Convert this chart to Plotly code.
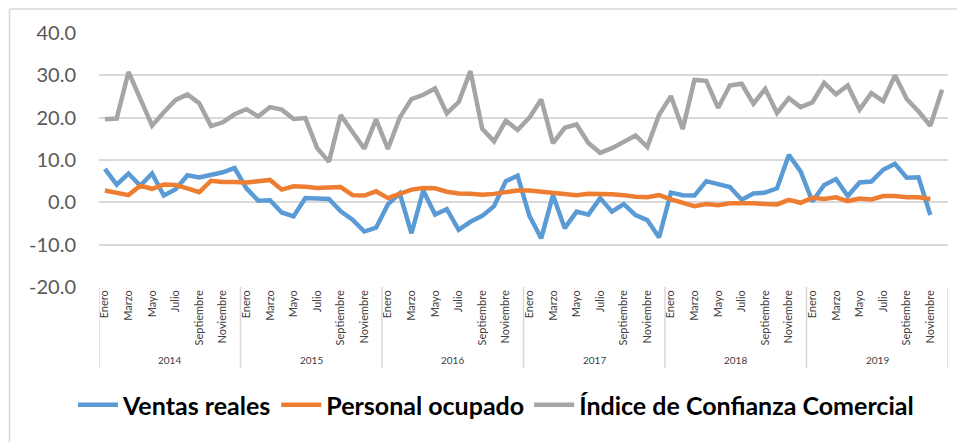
import plotly.graph_objects as go

years = ["2014", "2015", "2016", "2017", "2018", "2019"]
months = ["Enero", "Febrero", "Marzo", "Abril", "Mayo", "Junio", "Julio",
          "Agosto", "Septiembre", "Octubre", "Noviembre", "Diciembre"]

ventas_reales = [
    7.9, 4.2, 6.8, 3.9, 6.8, 1.6, 3.1, 6.4, 5.9, 6.5, 7.1, 8.1,
    3.3, 0.4, 0.5, -2.4, -3.3, 1.0, 0.9, 0.8, -2.1, -4.1, -6.9, -6.0,
    -0.5, 2.1, -7.3, 2.8, -2.9, -1.6, -6.5, -4.6, -3.2, -0.9, 5.0, 6.3,
    -3.2, -8.5, 1.7, -6.1, -2.2, -2.9, 1.0, -2.2, -0.4, -3.0, -4.2, -8.3,
    2.3, 1.7, 1.6, 5.0, 4.3, 3.6, 0.6, 2.1, 2.3, 3.3, 11.2, 7.3,
    0.2, 4.1, 5.5, 1.5, 4.7, 4.9, 7.7, 9.1, 5.8, 5.9, -3.0,
]
personal_ocupado = [
    2.8, 2.3, 1.7, 3.9, 3.2, 4.2, 4.1, 3.3, 2.4, 5.1, 4.8, 4.8,
    4.7, 5.0, 5.3, 3.0, 3.8, 3.7, 3.4, 3.5, 3.6, 1.7, 1.6, 2.6,
    1.0, 2.0, 3.0, 3.4, 3.3, 2.5, 2.1, 2.0, 1.8, 2.0, 2.4, 2.8,
    2.8, 2.5, 2.3, 1.9, 1.7, 2.0, 2.0, 1.9, 1.7, 1.3, 1.2, 1.7,
    0.7, -0.2, -0.9, -0.4, -0.7, -0.2, -0.1, -0.2, -0.4, -0.5, 0.6, -0.1,
    1.1, 0.8, 1.2, 0.3, 0.9, 0.7, 1.5, 1.5, 1.2, 1.2, 0.8,
]
confianza_comercial = [
    19.6, 19.8, 30.8, 24.6, 18.1, 21.3, 24.2, 25.5, 23.4, 18.0, 18.9, 20.8,
    22.0, 20.3, 22.5, 21.9, 19.7, 19.9, 12.8, 9.6, 20.6, 16.6, 12.7, 19.6,
    12.6, 20.0, 24.4, 25.4, 26.9, 21.0, 23.7, 31.0, 17.4, 14.4, 19.3, 17.1,
    20.0, 24.3, 14.0, 17.6, 18.4, 14.0, 11.7, 12.8, 14.4, 15.8, 13.1, 20.7,
    25.1, 17.3, 28.9, 28.7, 22.3, 27.6, 28.0, 23.3, 26.8, 21.1, 24.6, 22.5,
    23.6, 28.2, 25.5, 27.6, 21.9, 25.8, 23.9, 30.0, 24.4, 21.5, 18.1, 26.6,
]
y_tickvals = [-20, -10, 0, 10, 20, 30, 40]
y_ticktext = ["-20.0", "-10.0", "0.0", "10.0", "20.0", "30.0", "40.0"]

n_total = len(years) * 12
x_all = list(range(n_total))
month_tickvals = [i for i in x_all if (i % 12) % 2 == 0]
month_ticktext = [months[i % 12] for i in month_tickvals]

FONT = "Lato"
GRID = "#d9d9d9"

fig = go.Figure()
series = [
    ("Ventas reales", ventas_reales, "#5B9BD5"),
    ("Personal ocupado", personal_ocupado, "#ED7D31"),
    ("Índice de Confianza Comercial", confianza_comercial, "#A5A5A5"),
]
for name, vals, color in series:
    fig.add_trace(go.Scatter(
        x=x_all[:len(vals)], y=vals, mode="lines", name=name,
        line=dict(color=color, width=4.5),
    ))

shapes = []
# year separators of the category axis
for k in range(len(years) + 1):
    shapes.append(dict(type="line", xref="x", yref="paper",
                       x0=k * 12 - 0.5, x1=k * 12 - 0.5, y0=0, y1=-0.319,
                       line=dict(color=GRID, width=1.5)))
# chart border (top and left edges visible)
shapes.append(dict(type="line", xref="paper", yref="paper",
                   x0=-0.1054, x1=1.1, y0=1.0945, y1=1.0945,
                   line=dict(color=GRID, width=1.5)))
shapes.append(dict(type="line", xref="paper", yref="paper",
                   x0=-0.1054, x1=-0.1054, y0=1.0945, y1=-0.8,
                   line=dict(color=GRID, width=1.5)))

annotations = []
for k, yr in enumerate(years):
    annotations.append(dict(x=k * 12 + 5.5, y=-0.287, xref="x", yref="paper",
                            text=yr, showarrow=False, yanchor="middle",
                            font=dict(family=FONT, size=10, color="#404040")))

# page body has an 8px margin, so the figure is placed 8px right and down
fig.update_layout(
    width=965, height=442,
    margin=dict(l=91, r=25, t=25, b=163),
    paper_bgcolor="white", plot_bgcolor="white",
    font=dict(family=FONT),
    showlegend=True,
    legend=dict(orientation="h", x=0.4676, xanchor="center",
                y=-0.465, yanchor="middle",
                font=dict(family=FONT, size=25, color="black", weight="bold"),
                itemwidth=40, tracegroupgap=0),
    shapes=shapes,
    annotations=annotations,
)
fig.update_yaxes(range=[-20, 40], tickvals=y_tickvals, ticktext=y_ticktext,
                 showgrid=True, gridcolor=GRID, gridwidth=1.5, zeroline=False,
                 ticks="outside", ticklen=18, tickcolor="rgba(0,0,0,0)",
                 tickfont=dict(family=FONT, size=20, color="#595959"),
                 showline=False)
fig.update_xaxes(range=[-0.5, n_total - 0.5], tickvals=month_tickvals,
                 ticktext=month_ticktext, tickangle=-90, showgrid=False,
                 zeroline=False, showline=False, ticks="",
                 tickfont=dict(family=FONT, size=11, color="#404040"))

fig.write_html("out.html")
